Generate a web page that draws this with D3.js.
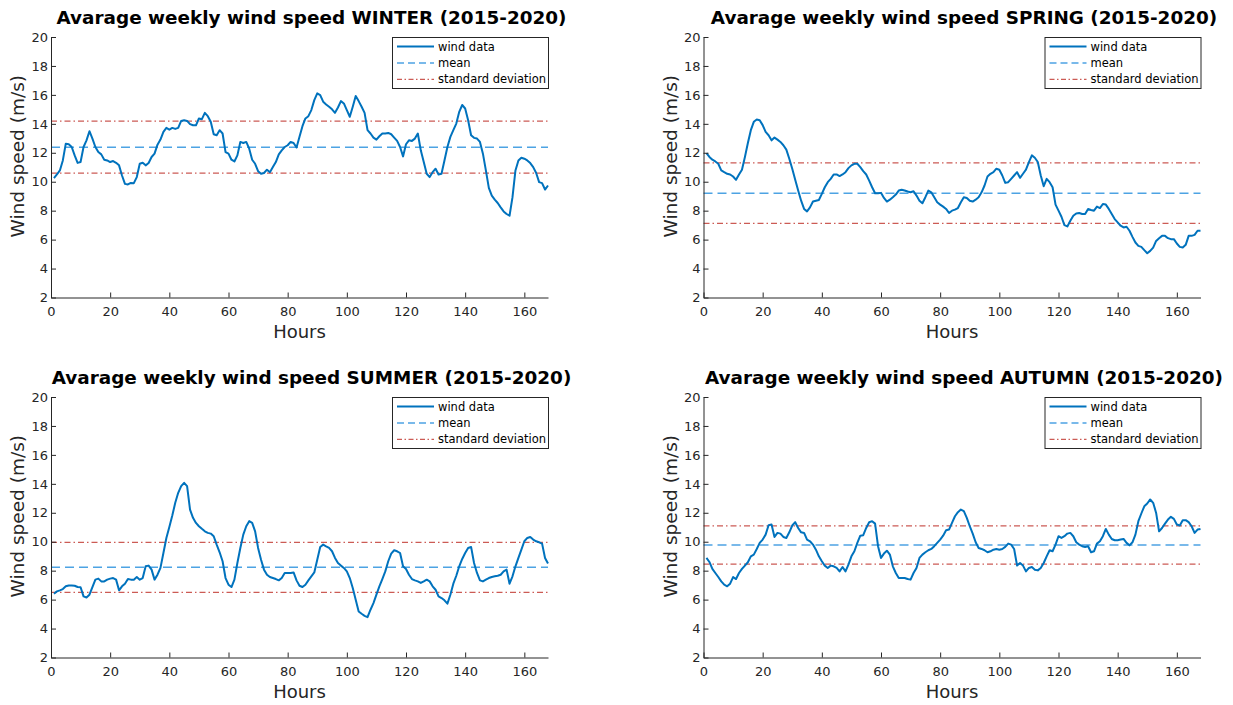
<!DOCTYPE html>
<html>
<head>
<meta charset="utf-8">
<script src="https://cdn.jsdelivr.net/npm/d3@7"></script>
<style>
  html, body { margin: 0; padding: 0; background: #ffffff; }
  svg { display: block; font-family: "DejaVu Sans", Verdana, sans-serif; }
</style>
</head>
<body>
<svg id="chart" width="1233" height="705"></svg>
<script>
// Hourly average wind speed over one week (hours 1..168), per season, m/s
const winter = [10.25,10.5,10.78,11.47,12.63,12.59,12.4,11.82,11.3,11.36,12.4,12.86,13.49,12.98,12.4,12.05,11.89,11.52,11.47,11.36,
  11.43,11.31,11.13,10.43,9.85,9.81,9.92,9.9,10.32,11.24,11.31,11.13,11.29,11.71,11.94,12.56,12.91,13.44,13.72,13.6,
  13.72,13.65,13.72,14.2,14.25,14.2,13.98,13.9,13.9,14.37,14.32,14.76,14.53,14.14,13.28,13.21,13.56,13.33,12.05,11.94,
  11.52,11.4,11.82,12.75,12.68,12.75,12.28,11.52,11.24,10.73,10.55,10.6,10.83,10.66,11.01,11.36,11.89,12.17,12.4,12.52,
  12.75,12.68,12.36,13.1,13.84,14.37,14.53,14.95,15.64,16.11,15.99,15.53,15.34,15.18,15.0,14.76,15.13,15.57,15.41,14.95,
  14.49,15.18,15.92,15.57,15.18,14.76,13.56,13.33,13.05,12.91,13.14,13.33,13.33,13.37,13.28,13.05,12.82,12.4,11.75,12.59,
  12.86,12.82,12.98,13.33,12.17,11.36,10.55,10.32,10.66,10.9,10.5,10.55,11.47,12.4,13.1,13.56,14.02,14.83,15.3,15.06,
  14.25,13.21,13.03,12.98,12.75,11.94,10.78,9.57,9.04,8.76,8.53,8.23,7.95,7.77,7.65,8.93,10.78,11.47,11.66,11.59,
  11.47,11.29,11.01,10.6,9.97,9.9,9.46,9.74];

const spring = [11.98,11.71,11.52,11.4,11.24,10.78,10.66,10.55,10.5,10.36,10.13,10.5,10.83,11.71,12.68,13.56,14.14,14.3,14.25,13.91,
  13.44,13.21,12.86,13.05,12.91,12.75,12.52,12.22,11.59,10.9,10.13,9.39,8.69,8.12,7.95,8.23,8.63,8.69,8.74,9.16,
  9.62,9.97,10.2,10.5,10.5,10.39,10.5,10.66,10.94,11.13,11.24,11.24,11.01,10.73,10.5,10.08,9.62,9.2,9.2,9.23,
  8.88,8.63,8.76,8.93,9.11,9.39,9.44,9.39,9.32,9.27,9.34,9.04,8.69,8.51,8.93,9.39,9.27,8.93,8.58,8.42,
  8.28,8.12,7.84,8.0,8.07,8.18,8.58,8.93,8.88,8.69,8.63,8.76,8.93,9.27,9.74,10.36,10.55,10.66,10.9,10.83,
  10.43,9.92,9.97,10.2,10.43,10.66,10.27,10.55,10.83,11.36,11.82,11.66,11.36,10.43,9.69,10.2,9.97,9.62,8.42,8.0,
  7.58,7.0,6.91,7.3,7.65,7.81,7.84,7.77,7.77,8.12,8.05,8.0,8.28,8.18,8.46,8.42,8.12,7.77,7.42,7.19,
  6.96,6.84,6.89,6.61,6.19,5.8,5.57,5.5,5.27,5.06,5.22,5.45,5.91,6.1,6.26,6.26,6.1,6.03,6.03,5.73,
  5.5,5.45,5.64,6.26,6.26,6.33,6.61,6.61];

const summer = [6.41,6.57,6.64,6.73,6.92,6.98,6.98,6.96,6.87,6.85,6.22,6.15,6.34,6.87,7.38,7.45,7.26,7.26,7.38,7.45,
  7.49,7.38,6.64,6.92,7.1,7.42,7.38,7.38,7.56,7.38,7.49,8.3,8.35,8.07,7.38,7.72,8.19,9.22,10.26,11.02,
  11.81,12.69,13.38,13.84,14.07,13.84,12.22,11.65,11.3,11.07,10.89,10.72,10.61,10.56,10.38,9.8,9.27,8.65,7.49,7.03,
  6.87,7.38,8.53,9.57,10.49,11.07,11.42,11.3,10.72,9.57,8.76,8.07,7.72,7.56,7.49,7.42,7.33,7.49,7.84,7.84,
  7.84,7.88,7.33,6.96,6.87,7.03,7.33,7.61,7.88,8.76,9.64,9.8,9.68,9.57,9.34,8.88,8.53,8.35,8.19,7.95,
  7.49,6.8,5.99,5.18,5.02,4.88,4.79,5.3,5.76,6.34,6.92,7.42,7.95,8.65,9.18,9.41,9.34,9.22,8.3,8.12,
  7.72,7.42,7.33,7.26,7.15,7.26,7.38,7.26,6.92,6.68,6.22,6.11,5.95,5.72,6.34,7.1,7.65,8.3,8.81,9.22,
  9.57,9.64,8.53,7.84,7.33,7.26,7.38,7.49,7.56,7.61,7.65,7.72,7.95,8.07,7.1,7.61,8.3,8.88,9.45,10.03,
  10.26,10.33,10.15,10.03,9.96,9.87,8.88,8.49];

const autumn = [8.88,8.6,8.12,7.84,7.56,7.26,7.03,6.92,7.1,7.56,7.42,7.84,8.12,8.35,8.58,8.99,9.11,9.5,9.92,10.15,
  10.49,11.14,11.19,10.33,10.61,10.56,10.33,10.26,10.65,11.12,11.35,10.95,10.65,10.61,10.15,10.03,9.8,9.45,8.99,8.65,
  8.35,8.19,8.35,8.3,8.19,7.95,8.25,7.95,8.42,8.99,9.34,9.92,10.42,10.45,10.95,11.35,11.42,11.25,9.69,8.88,
  9.18,9.38,9.11,8.3,7.84,7.49,7.49,7.49,7.42,7.38,7.84,8.19,8.88,9.11,9.27,9.41,9.5,9.69,9.92,10.15,
  10.42,10.79,10.84,11.3,11.76,12.04,12.22,12.11,11.65,11.07,10.56,9.96,9.57,9.5,9.41,9.27,9.34,9.45,9.5,9.45,
  9.5,9.64,9.87,9.8,9.5,8.35,8.53,8.35,7.95,8.19,8.25,8.07,8.02,8.19,8.53,8.99,9.41,9.34,9.8,10.38,
  10.26,10.38,10.56,10.61,10.38,9.96,9.8,9.69,9.64,9.69,9.27,9.34,9.87,10.03,10.38,10.88,10.49,10.19,10.1,10.1,
  10.15,10.19,9.92,9.75,9.96,10.49,11.42,11.95,12.45,12.64,12.92,12.69,11.99,10.72,10.95,11.25,11.53,11.72,11.58,11.19,
  11.12,11.49,11.49,11.35,11.07,10.61,10.84,10.88];

const seasons = ["WINTER", "SPRING", "SUMMER", "AUTUMN"];
const seasonSeries = [winter, spring, summer, autumn];
const meanValues = [12.39, 9.21, 8.23, 9.77];
const stdValues = [1.80, 2.09, 1.73, 1.32];

const xTicks = [0, 20, 40, 60, 80, 100, 120, 140, 160];
const yTicks = [2, 4, 6, 8, 10, 12, 14, 16, 18, 20];
const legendLabels = ["wind data", "mean", "standard deviation"];

// Panel geometry
const panelLeft = [51, 703.5];
const panelTop = [37, 397];
const panelW = 497;
const panelH = 260.5;

const colWind = "#0072BD";
const colMean = "#4DA3E3";
const colStd = "#CC5B55";
const colAxis = "#262626";

const svg = d3.select("#chart");

seasons.forEach((season, i) => {
  const col = i % 2, row = Math.floor(i / 2);
  const x0 = panelLeft[col], y0 = panelTop[row];
  const g = svg.append("g").attr("transform", `translate(${x0},${y0})`);

  const x = d3.scaleLinear().domain([0, 168]).range([0, panelW]);
  const y = d3.scaleLinear().domain([2, 20]).range([panelH, 0]);

  const values = seasonSeries[i];
  const pts = values.map((v, k) => ({ h: k + 1, v }));

  // mean and mean ± std reference lines
  const m = meanValues[i], s = stdValues[i];
  const hline = (val, color, dash, width) =>
    g.append("line")
      .attr("x1", x(0)).attr("x2", x(168))
      .attr("y1", y(val)).attr("y2", y(val))
      .attr("stroke", color).attr("stroke-width", width)
      .attr("stroke-dasharray", dash);

  hline(m + s, colStd, "6,3,1.5,3", 1.2);
  hline(m - s, colStd, "6,3,1.5,3", 1.2);
  hline(m, colMean, "9,5", 1.5);

  // wind series
  g.append("path")
    .datum(pts)
    .attr("fill", "none")
    .attr("stroke", colWind)
    .attr("stroke-width", 2)
    .attr("stroke-linejoin", "round")
    .attr("d", d3.line().x(d => x(d.h)).y(d => y(d.v)));

  // axes (ticks point inward, no box)
  const yAxis = g.append("g")
    .call(d3.axisLeft(y).tickValues(yTicks).tickSizeInner(-5).tickSizeOuter(0).tickPadding(3));
  const xAxis = g.append("g")
    .attr("transform", `translate(0,${panelH})`)
    .call(d3.axisBottom(x).tickValues(xTicks).tickSizeInner(-5).tickSizeOuter(0).tickPadding(9));
  [xAxis, yAxis].forEach(a => {
    a.select(".domain").attr("stroke", colAxis).attr("stroke-width", 1);
    a.selectAll(".tick line").attr("stroke", colAxis);
    a.selectAll(".tick text")
      .attr("fill", colAxis)
      .style("font-size", "13px")
      .style("font-family", "'DejaVu Sans', Verdana, sans-serif");
  });

  // title
  g.append("text")
    .attr("x", panelW / 2 + 12)
    .attr("y", -13)
    .attr("text-anchor", "middle")
    .attr("fill", "#000")
    .style("font-weight", "bold")
    .style("font-size", "18.4px")
    .text(`Avarage weekly wind speed ${season} (2015-2020)`);

  // axis labels
  g.append("text")
    .attr("x", panelW / 2)
    .attr("y", panelH + 40.5)
    .attr("text-anchor", "middle")
    .attr("fill", colAxis)
    .style("font-size", "18px")
    .text("Hours");

  g.append("text")
    .attr("transform", `translate(${-27},${panelH / 2 - 11}) rotate(-90)`)
    .attr("text-anchor", "middle")
    .attr("fill", colAxis)
    .style("font-size", "18.5px")
    .text("Wind speed (m/s)");

  // legend
  const lg = g.append("g").attr("transform", `translate(${panelW - 156},0)`);
  lg.append("rect")
    .attr("x", 0.5).attr("y", 0.5)
    .attr("width", 156).attr("height", 51)
    .attr("fill", "#fff")
    .attr("stroke", colAxis).attr("stroke-width", 1);
  const legendStyles = [
    { color: colWind, dash: null, width: 2 },
    { color: colMean, dash: "7,4", width: 1.5 },
    { color: colStd, dash: "5,2.5,1.5,2.5", width: 1.2 }
  ];
  legendLabels.forEach((label, k) => {
    const cy = 9.5 + k * 16.4;
    const st = legendStyles[k];
    lg.append("line")
      .attr("x1", 5).attr("x2", 42)
      .attr("y1", cy).attr("y2", cy)
      .attr("stroke", st.color).attr("stroke-width", st.width)
      .attr("stroke-dasharray", st.dash);
    lg.append("text")
      .attr("x", 46).attr("y", cy + 4)
      .attr("fill", "#000")
      .style("font-size", "11.5px")
      .text(label);
  });
});
</script>
</body>
</html>
